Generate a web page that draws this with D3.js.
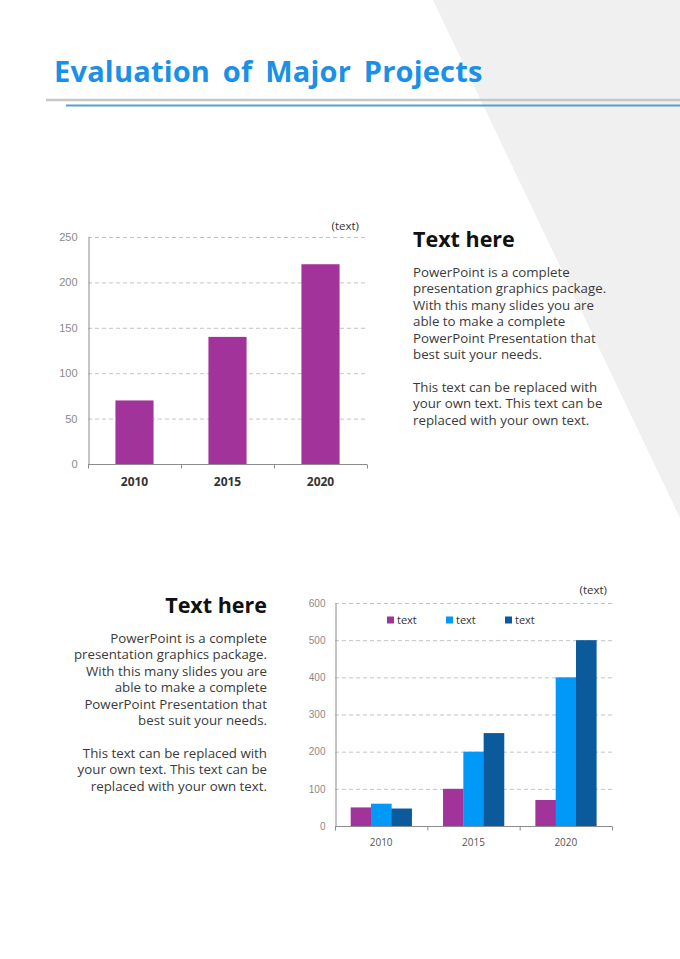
<!DOCTYPE html>
<html><head><meta charset="utf-8">
<script src="https://cdn.jsdelivr.net/npm/d3@7"></script>
<style>
html,body{margin:0;padding:0;background:#fff;}
svg{display:block;}
</style></head>
<body>
<svg id="page" width="680" height="959"></svg>
<script>
// ---- data ----
const title = "Evaluation of Major Projects";
const years1 = ["2010", "2015", "2020"];
const values1 = [70, 140, 220];
const ticks1 = [0, 50, 100, 150, 200, 250];

const years2 = ["2010", "2015", "2020"];
const seriesNames = ["text", "text", "text"];
const seriesA = [50, 100, 70];
const seriesB = [60, 200, 400];
const seriesC = [47, 250, 500];
const ticks2 = [0, 100, 200, 300, 400, 500, 600];

const heading = "Text here";
const para1 = ["PowerPoint is a complete", "presentation graphics package.", "With this many slides you are", "able to make a complete", "PowerPoint Presentation that", "best suit your needs."];
const para2 = ["This text can be replaced with", "your own text. This text can be", "replaced with your own text."];
const unitLabel = "(text)";

const colors = ["#A2339A", "#0099F8", "#0A5A9C"];
const FONT = "'Open Sans', 'Noto Sans', sans-serif";

const svg = d3.select("#page");

// background triangle
svg.append("polygon").attr("points", "433,0 680,0 680,518").attr("fill", "#f0f0f0");

// header lines
svg.append("line").attr("x1", 46).attr("x2", 680).attr("y1", 100).attr("y2", 100)
  .attr("stroke", "#c6c6c6").attr("stroke-width", 2.5);
svg.append("line").attr("x1", 66).attr("x2", 680).attr("y1", 105.5).attr("y2", 105.5)
  .attr("stroke", "#4f9cc2").attr("stroke-width", 2).attr("opacity", 0.95);

svg.append("text").attr("x", 54).attr("y", 82).text(title)
  .attr("font-family", FONT).attr("font-weight", 700).attr("font-size", 29)
  .attr("word-spacing", 5).attr("letter-spacing", 0.2)
  .attr("fill", "#1a90e6");

// ---- chart 1 ----
{
  const x0 = 88, x1 = 367, yb = 464, yt = 237;
  const x = d3.scaleBand().domain(years1).range([x0, x1]).paddingInner(0.59).paddingOuter(0.295);
  const y = d3.scaleLinear().domain([0, 250]).range([yb, yt]);
  const g = svg.append("g");
  g.selectAll("line.grid").data(ticks1.filter(t => t > 0)).join("line")
    .attr("x1", x0).attr("x2", x1).attr("y1", d => y(d) + 0.5).attr("y2", d => y(d) + 0.5)
    .attr("stroke", "#c4c4c4").attr("stroke-dasharray", "4,3");
  g.selectAll("rect").data(values1).join("rect")
    .attr("x", (d, i) => x(years1[i])).attr("width", x.bandwidth())
    .attr("y", d => y(d)).attr("height", d => yb - y(d)).attr("fill", colors[0]);
  const ya = g.append("g").attr("transform", `translate(${x0 + 0.5},0)`)
    .call(d3.axisLeft(y).tickValues(ticks1).tickSize(0).tickPadding(11));
  ya.select(".domain").attr("stroke", "#8c8c8c");
  ya.selectAll("text").attr("font-family", "'Liberation Sans', Arial, sans-serif").attr("font-size", 11).attr("fill", "#8a8a8a");
  const xs = d3.scalePoint().domain(d3.range(4)).range([x0, x1]);
  const xa = g.append("g").attr("transform", `translate(0,${yb + 0.5})`);
  xa.append("line").attr("x1", x0).attr("x2", x1).attr("stroke", "#8c8c8c");
  xa.selectAll("line.t").data(d3.range(4)).join("line").attr("class", "t")
    .attr("x1", d => xs(d) + 0.5).attr("x2", d => xs(d) + 0.5).attr("y1", 0).attr("y2", 4).attr("stroke", "#8c8c8c");
  xa.selectAll("text").data(years1).join("text")
    .attr("x", d => x(d) + x.bandwidth() / 2).attr("y", 21).attr("text-anchor", "middle")
    .attr("font-family", FONT).attr("font-weight", 700).attr("font-size", 12).attr("fill", "#333")
    .text(d => d);
  g.append("text").attr("x", 359).attr("y", 230).attr("text-anchor", "end").text(unitLabel)
    .attr("font-family", FONT).attr("font-size", 11.5).attr("fill", "#333");
}

// ---- text blocks ----
function textBlock(xp, yHead, anchor) {
  const g = svg.append("g").attr("font-family", FONT).attr("text-anchor", anchor);
  g.append("text").attr("x", xp).attr("y", yHead).text(heading)
    .attr("font-weight", 700).attr("font-size", 21.5).attr("fill", "#111");
  const lines = para1.concat([""], para2);
  g.selectAll("text.p").data(lines).join("text").attr("class", "p")
    .attr("x", xp).attr("y", (d, i) => yHead + 30 + i * 16.4).text(d => d)
    .attr("font-size", 13.3).attr("fill", "#3a3a3a");
}
textBlock(413, 247, "start");
textBlock(267, 613, "end");

// ---- chart 2 ----
{
  const x0 = 335, x1 = 612, yb = 826, yt = 603;
  const x = d3.scaleBand().domain(years2).range([x0, x1]).paddingInner(0.34).paddingOuter(0.17);
  const xi = d3.scaleBand().domain(d3.range(3)).range([0, x.bandwidth()]);
  const y = d3.scaleLinear().domain([0, 600]).range([yb, yt]);
  const g = svg.append("g");
  g.selectAll("line.grid").data(ticks2.filter(t => t > 0)).join("line")
    .attr("x1", x0).attr("x2", x1).attr("y1", d => y(d) + 0.5).attr("y2", d => y(d) + 0.5)
    .attr("stroke", "#c4c4c4").attr("stroke-dasharray", "4,3");
  const series = [seriesA, seriesB, seriesC];
  series.forEach((s, si) => {
    g.selectAll(null).data(s).join("rect")
      .attr("x", (d, i) => x(years2[i]) + xi(si)).attr("width", xi.bandwidth() + 0.3)
      .attr("y", d => y(d)).attr("height", d => yb - y(d)).attr("fill", colors[si]);
  });
  const ya = g.append("g").attr("transform", `translate(${x0 + 0.5},0)`)
    .call(d3.axisLeft(y).tickValues(ticks2).tickSize(0).tickPadding(10));
  ya.select(".domain").attr("stroke", "#8c8c8c");
  ya.selectAll("text").attr("font-family", "'Liberation Sans', Arial, sans-serif").attr("font-size", 10).attr("fill", "#8a8a8a");
  const xs = d3.scalePoint().domain(d3.range(4)).range([x0, x1]);
  const xa = g.append("g").attr("transform", `translate(0,${yb + 0.5})`);
  xa.append("line").attr("x1", x0).attr("x2", x1).attr("stroke", "#8c8c8c");
  xa.selectAll("line.t").data(d3.range(4)).join("line").attr("class", "t")
    .attr("x1", d => xs(d) + 0.5).attr("x2", d => xs(d) + 0.5).attr("y1", 0).attr("y2", 4).attr("stroke", "#8c8c8c");
  xa.selectAll("text").data(years2).join("text")
    .attr("x", d => x(d) + x.bandwidth() / 2).attr("y", 19).attr("text-anchor", "middle")
    .attr("font-family", FONT).attr("font-size", 10).attr("fill", "#555")
    .text(d => d);
  g.append("text").attr("x", 607).attr("y", 594).attr("text-anchor", "end").text(unitLabel)
    .attr("font-family", FONT).attr("font-size", 11.5).attr("fill", "#333");
  // legend
  const lx = [387, 446, 505];
  const lg = g.selectAll("g.leg").data(seriesNames).join("g").attr("class", "leg")
    .attr("transform", (d, i) => `translate(${lx[i]},620)`);
  lg.append("rect").attr("x", 0).attr("y", -3.5).attr("width", 7).attr("height", 7).attr("fill", (d, i) => colors[i]);
  lg.append("text").attr("x", 10).attr("y", 4).text(d => d)
    .attr("font-family", FONT).attr("font-size", 11).attr("fill", "#333");
}
</script>
</body></html>
